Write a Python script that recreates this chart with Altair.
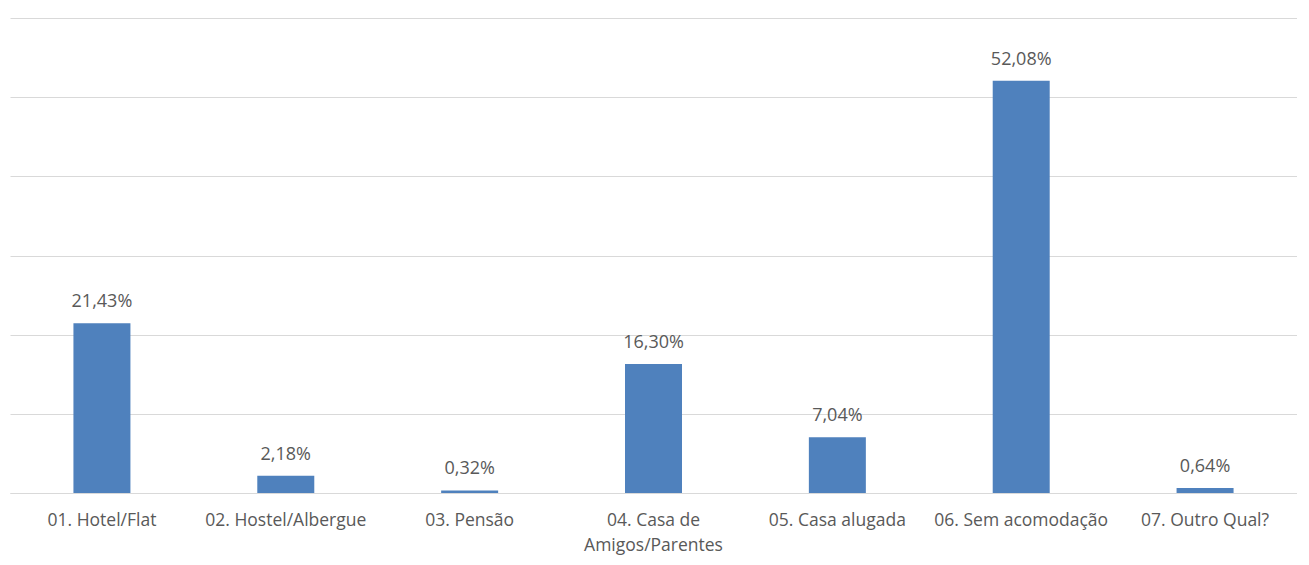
import altair as alt
import pandas as pd

categories = ["01. Hotel/Flat", "02. Hostel/Albergue", "03. Pensão",
              "04. Casa de Amigos/Parentes", "05. Casa alugada",
              "06. Sem acomodação", "07. Outro Qual?"]
values = [21.43, 2.18, 0.32, 16.30, 7.04, 52.08, 0.64]

df = pd.DataFrame({"cat": categories, "value": values})

FONT = "Open Sans"
GREY = "#595959"

x = alt.X("cat:N", sort=categories, title=None,
          scale=alt.Scale(paddingInner=0.69, paddingOuter=0.345),
          axis=alt.Axis(labelAngle=0, labelFont=FONT, labelFontSize=17.5,
                        labelColor=GREY, labelPadding=18, ticks=False,
                        domainColor="#d9d9d9", labelLineHeight=25,
                        labelExpr="datum.label == '04. Casa de Amigos/Parentes' ? ['04. Casa de', 'Amigos/Parentes'] : datum.label"))
y = alt.Y("value:Q", title=None,
          scale=alt.Scale(domain=[0, 60], nice=False),
          axis=alt.Axis(values=[0, 10, 20, 30, 40, 50, 60], labels=False,
                        ticks=False, domain=False, gridColor="#d9d9d9"))

bars = alt.Chart(df).mark_bar(color="#4f81bd").encode(x=x, y=y)
text = alt.Chart(df).transform_calculate(
    lbl="replace(format(datum.value, '.2f'), '.', ',') + '%'"
).mark_text(dy=-21, font=FONT, fontSize=18, color=GREY).encode(
    x=alt.X("cat:N", sort=categories), y="value:Q", text="lbl:N")

chart = (bars + text).properties(
    width=1287, height=475,
    autosize=alt.AutoSizeParams(type="none"),
    padding={"left": 2, "top": 10, "right": 0, "bottom": 70},
).configure_view(stroke=None)

chart.save("out.html", embed_options={"renderer": "svg", "actions": False})
